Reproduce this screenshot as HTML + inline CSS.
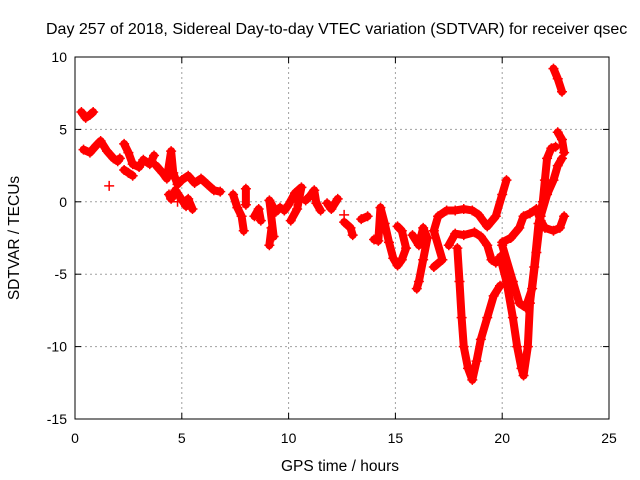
<!DOCTYPE html>
<html><head><meta charset="utf-8"><style>
body{margin:0;background:#fff}
svg{display:block;font-family:"Liberation Sans",sans-serif}
</style></head><body>
<svg id="chart" width="640" height="480">
<rect x="0" y="0" width="640" height="480" fill="#fff"/>
<text x="46" y="34" font-size="16">Day 257 of 2018, Sidereal Day-to-day VTEC variation (SDTVAR) for receiver qsec</text>
<text x="340" y="471" font-size="15.5" text-anchor="middle">GPS time / hours</text>
<text transform="translate(19,238) rotate(-90)" font-size="15.5" text-anchor="middle">SDTVAR / TECUs</text>
<g id="grid"></g><g id="marks"></g><g id="axes"></g>
</svg>
<script>
const xTicks=[0,5,10,15,20,25];
const yTicks=[-15,-10,-5,0,5,10];
const track1=[[0.3,6.2],[0.5,5.8],[0.7,6.0],[0.85,6.2]];
const track2=[[0.4,3.6],[0.7,3.4],[1.0,3.9],[1.2,4.2],[1.5,3.5],[1.8,3.0],[2.0,2.8],[2.1,3.0]];
const track3=[[2.3,4.0],[2.5,3.4],[2.7,2.6],[3.0,2.4],[3.2,2.9],[3.5,2.6],[3.7,3.2]];
const track4=[[2.3,2.2],[2.5,2.0],[2.7,1.8]];
const track5=[[3.8,2.5],[4.1,2.0],[4.3,1.6],[4.5,3.5],[4.6,2.0],[4.8,1.2],[5.0,1.5],[5.3,1.8],[5.6,1.3],[5.9,1.6],[6.2,1.2],[6.5,0.8],[6.8,0.7]];
const track6=[[4.4,0.5],[4.5,0.2],[4.7,0.8],[5.2,-0.3],[5.3,0.2],[5.5,-0.5]];
const track7=[[7.4,0.5],[7.6,-0.4],[7.8,-1.0],[7.9,-2.0]];
const track8=[[8.0,0.9],[8.0,-0.2]];
const track9=[[8.4,-1.0],[8.6,-0.5],[8.7,-1.3]];
const track10=[[9.1,-3.0],[9.2,-1.8],[9.3,-2.4],[9.1,0.1],[9.4,-0.7],[9.6,-0.4]];
const track11=[[9.8,-0.6],[10.0,-0.2],[10.3,0.6],[10.6,1.0],[10.4,-0.5],[10.1,-1.3]];
const track12=[[10.8,0.1],[11.0,0.4],[11.2,0.8],[11.3,-0.1],[11.5,-0.6]];
const track13=[[11.8,-0.1],[12.0,-0.5],[12.3,0.2]];
const track14=[[12.6,-1.4],[12.9,-1.8],[13.0,-2.3]];
const track15=[[13.4,-1.2],[13.7,-1.0]];
const track16=[[14.0,-2.6],[14.2,-2.7],[14.3,-0.4],[14.5,-1.5],[14.7,-2.8],[14.9,-3.9],[15.1,-4.4],[15.3,-4.0],[15.5,-3.2],[15.3,-2.0],[15.1,-1.7]];
const track17=[[15.8,-2.3],[16.1,-3.0],[16.3,-1.8],[16.5,-2.5],[16.3,-4.0],[16.1,-5.5],[16.0,-6.0]];
const track18=[[16.8,-4.5],[17.2,-4.0],[16.8,-2.0],[17.0,-1.0],[17.4,-0.6],[17.8,-0.6],[18.2,-0.5],[18.6,-0.6],[18.9,-0.9],[19.3,-1.7],[19.7,-1.0],[20.0,0.5],[20.2,1.5]];
const track19=[[17.5,-3.0],[17.8,-2.2],[18.2,-2.3],[18.7,-2.1],[19.0,-2.4],[19.3,-3.0],[19.5,-4.0],[19.7,-4.2]];
const track20=[[17.9,-3.2],[18.0,-5.5],[18.1,-8.0],[18.2,-10.0],[18.4,-11.5],[18.6,-12.3],[18.8,-11.0],[19.0,-9.5],[19.3,-8.0],[19.6,-6.5],[19.9,-5.8]];
const track21=[[19.9,-3.8],[20.2,-5.5],[20.5,-8.0],[20.7,-10.0],[20.9,-11.5],[21.0,-12.0],[21.2,-10.0],[21.3,-7.0],[21.5,-4.5],[21.7,-1.5],[21.9,0.0],[22.0,1.5],[22.1,3.0],[22.3,3.7],[22.5,3.8]];
const track22=[[20.0,-3.0],[20.5,-5.5],[20.8,-7.0],[21.1,-7.3],[21.4,-6.0],[21.6,-3.5],[21.8,-1.0],[22.1,0.5],[22.4,1.5],[22.6,2.5],[22.8,3.0]];
const track23=[[20.0,-2.8],[20.4,-2.5],[20.8,-1.8],[21.0,-1.0],[21.3,-0.8],[21.6,-0.5],[21.8,-1.3],[22.0,-1.8],[22.4,-2.0],[22.7,-1.8],[22.9,-1.0]];
const track24=[[22.4,9.2],[22.6,8.5],[22.8,7.6]];
const track25=[[22.6,4.8],[22.8,4.3],[22.9,3.4]];
const strays=[[1.6,1.1],[12.6,-0.9],[4.8,0.0]];
const tracks=[track1,track2,track3,track4,track5,track6,track7,track8,track9,track10,track11,track12,track13,track14,track15,track16,track17,track18,track19,track20,track21,track22,track23,track24,track25];

const L=75,R=609,T=57,B=419;
const xs=h=>L+(h-0)/(25-0)*(R-L);
const ys=v=>B-(v+15)/(25)*(B-T);
const NS="http://www.w3.org/2000/svg";
function mk(t,a,p){const e=document.createElementNS(NS,t);for(const k in a)e.setAttribute(k,a[k]);p.appendChild(e);return e;}
const grid=document.getElementById('grid'),marks=document.getElementById('marks'),axes=document.getElementById('axes');
xTicks.forEach(t=>{const x=xs(t);
 if(t>0&&t<25){const g=mk('line',{x1:x,y1:T,x2:x,y2:B,stroke:'#a0a0a0','stroke-dasharray':'2,3'},grid);
 
 }
 mk('line',{x1:x,y1:B,x2:x,y2:B-6,stroke:'#000'},axes);mk('line',{x1:x,y1:T,x2:x,y2:T+6,stroke:'#000'},axes);
 const l=mk('text',{x:x,y:443,'font-size':14,'text-anchor':'middle'},axes);l.textContent=t;
 
 });
yTicks.forEach(t=>{const y=ys(t);
 if(t>-15&&t<10){const g=mk('line',{x1:L,y1:y,x2:R,y2:y,stroke:'#a0a0a0','stroke-dasharray':'2,3'},grid);
 
 }
 mk('line',{x1:L,y1:y,x2:L+6,y2:y,stroke:'#000'},axes);mk('line',{x1:R,y1:y,x2:R-6,y2:y,stroke:'#000'},axes);
 const l=mk('text',{x:L-8,y:y+5,'font-size':14,'text-anchor':'end'},axes);l.textContent=t;
 
 });
const fr=mk('rect',{x:L,y:T,width:R-L,height:B-T,fill:'none',stroke:'#000'},axes);


function plus(h,v){const x=xs(h),y=ys(v);mk('path',{d:`M${x-5},${y}h10M${x},${y-5}v10`,stroke:'#f00','stroke-width':1.5},marks);}
tracks.forEach(tr=>{
 const pl=mk('polyline',{points:tr.map(p=>xs(p[0])+','+ys(p[1])).join(' '),fill:'none',stroke:'#f00','stroke-width':8,'stroke-linejoin':'round','stroke-linecap':'round'},marks);
 
 
 tr.forEach(p=>plus(p[0],p[1]));});
strays.forEach(p=>plus(p[0],p[1]));
</script>
</body></html>
